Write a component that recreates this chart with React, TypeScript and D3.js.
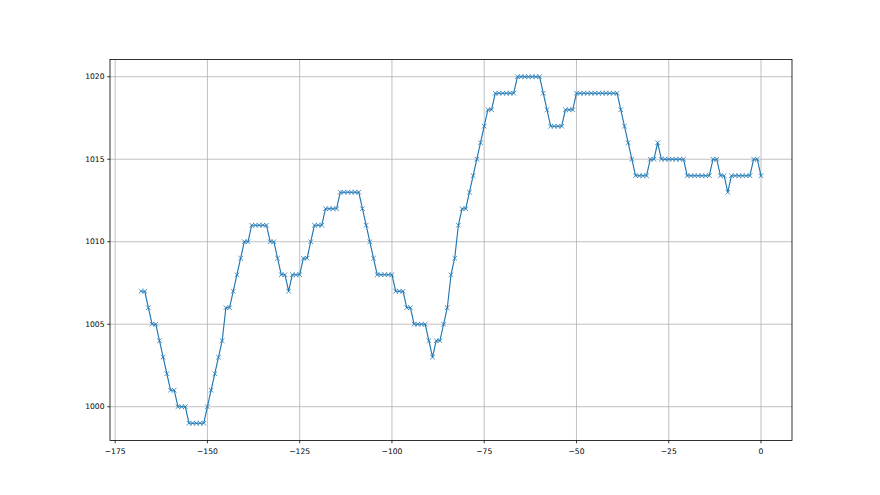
import React from "react";
import * as d3 from "d3";

const hours: number[] = [
  -168, -167, -166, -165, -164, -163, -162, -161, -160, -159,
  -158, -157, -156, -155, -154, -153, -152, -151, -150, -149,
  -148, -147, -146, -145, -144, -143, -142, -141, -140, -139,
  -138, -137, -136, -135, -134, -133, -132, -131, -130, -129,
  -128, -127, -126, -125, -124, -123, -122, -121, -120, -119,
  -118, -117, -116, -115, -114, -113, -112, -111, -110, -109,
  -108, -107, -106, -105, -104, -103, -102, -101, -100, -99,
  -98, -97, -96, -95, -94, -93, -92, -91, -90, -89,
  -88, -87, -86, -85, -84, -83, -82, -81, -80, -79,
  -78, -77, -76, -75, -74, -73, -72, -71, -70, -69,
  -68, -67, -66, -65, -64, -63, -62, -61, -60, -59,
  -58, -57, -56, -55, -54, -53, -52, -51, -50, -49,
  -48, -47, -46, -45, -44, -43, -42, -41, -40, -39,
  -38, -37, -36, -35, -34, -33, -32, -31, -30, -29,
  -28, -27, -26, -25, -24, -23, -22, -21, -20, -19,
  -18, -17, -16, -15, -14, -13, -12, -11, -10, -9,
  -8, -7, -6, -5, -4, -3, -2, -1, 0,
];

const pressure: number[] = [
  1007, 1007, 1006, 1005, 1005, 1004, 1003, 1002, 1001, 1001,
  1000, 1000, 1000, 999, 999, 999, 999, 999, 1000, 1001,
  1002, 1003, 1004, 1006, 1006, 1007, 1008, 1009, 1010, 1010,
  1011, 1011, 1011, 1011, 1011, 1010, 1010, 1009, 1008, 1008,
  1007, 1008, 1008, 1008, 1009, 1009, 1010, 1011, 1011, 1011,
  1012, 1012, 1012, 1012, 1013, 1013, 1013, 1013, 1013, 1013,
  1012, 1011, 1010, 1009, 1008, 1008, 1008, 1008, 1008, 1007,
  1007, 1007, 1006, 1006, 1005, 1005, 1005, 1005, 1004, 1003,
  1004, 1004, 1005, 1006, 1008, 1009, 1011, 1012, 1012, 1013,
  1014, 1015, 1016, 1017, 1018, 1018, 1019, 1019, 1019, 1019,
  1019, 1019, 1020, 1020, 1020, 1020, 1020, 1020, 1020, 1019,
  1018, 1017, 1017, 1017, 1017, 1018, 1018, 1018, 1019, 1019,
  1019, 1019, 1019, 1019, 1019, 1019, 1019, 1019, 1019, 1019,
  1018, 1017, 1016, 1015, 1014, 1014, 1014, 1014, 1015, 1015,
  1016, 1015, 1015, 1015, 1015, 1015, 1015, 1015, 1014, 1014,
  1014, 1014, 1014, 1014, 1014, 1015, 1015, 1014, 1014, 1013,
  1014, 1014, 1014, 1014, 1014, 1014, 1015, 1015, 1014,
];

const xTicks: number[] = [-175, -150, -125, -100, -75, -50, -25, 0];
const yTicks: number[] = [1000, 1005, 1010, 1015, 1020];

const W = 880;
const H = 495;
const left = 110;
const right = 792;
const top = 59.4;
const bottom = 440.55;

const fmt = (v: number) => (v < 0 ? "\u2212" + Math.abs(v) : String(v));

export default function App() {
  const xMin = d3.min(hours)!;
  const xMax = d3.max(hours)!;
  const yMin = d3.min(pressure)!;
  const yMax = d3.max(pressure)!;
  const xPad = (xMax - xMin) * 0.05;
  const yPad = (yMax - yMin) * 0.05;
  const x = d3.scaleLinear().domain([xMin - xPad, xMax + xPad]).range([left, right]);
  const y = d3.scaleLinear().domain([yMin - yPad, yMax + yPad]).range([bottom, top]);

  const pts = hours.map((h, i) => [h, pressure[i]] as [number, number]);
  const line = d3
    .line<[number, number]>()
    .x((d) => x(d[0]))
    .y((d) => y(d[1]))(pts)!;

  const m = 2.3;
  const color = "#1f77b4";
  const font = "DejaVu Sans, sans-serif";

  return (
    <svg
      width={W}
      height={H}
      style={{ position: "fixed", left: 0, top: 0, background: "#fff" }}
    >
      <rect x={0} y={0} width={W} height={H} fill="#fff" />
      {/* grid */}
      {xTicks.map((t) => (
        <line key={"gx" + t} x1={x(t)} x2={x(t)} y1={top} y2={bottom} stroke="#b0b0b0" strokeWidth={0.8} />
      ))}
      {yTicks.map((t) => (
        <line key={"gy" + t} x1={left} x2={right} y1={y(t)} y2={y(t)} stroke="#b0b0b0" strokeWidth={0.8} />
      ))}
      {/* data line */}
      <path d={line} fill="none" stroke={color} strokeWidth={1.15} strokeLinejoin="round" strokeLinecap="square" />
      {pts.map((d, i) => (
        <g key={"m" + i} stroke={color} strokeWidth={0.8}>
          <line x1={x(d[0]) - m} y1={y(d[1]) - m} x2={x(d[0]) + m} y2={y(d[1]) + m} />
          <line x1={x(d[0]) - m} y1={y(d[1]) + m} x2={x(d[0]) + m} y2={y(d[1]) - m} />
        </g>
      ))}
      {/* spines */}
      <rect x={left} y={top} width={right - left} height={bottom - top} fill="none" stroke="#000" strokeWidth={0.8} />
      {/* x ticks */}
      {xTicks.map((t) => (
        <g key={"xt" + t}>
          <line x1={x(t)} x2={x(t)} y1={bottom} y2={bottom + 2.7} stroke="#000" strokeWidth={0.8} />
          <text x={x(t)} y={bottom + 13.5} textAnchor="middle" fontFamily={font} fontSize={7.6} fill="#000">
            {fmt(t)}
          </text>
        </g>
      ))}
      {/* y ticks */}
      {yTicks.map((t) => (
        <g key={"yt" + t}>
          <line x1={left - 2.7} x2={left} y1={y(t)} y2={y(t)} stroke="#000" strokeWidth={0.8} />
          <text x={left - 5.5} y={y(t)} dy="0.35em" textAnchor="end" fontFamily={font} fontSize={7.6} fill="#000">
            {fmt(t)}
          </text>
        </g>
      ))}
    </svg>
  );
}
